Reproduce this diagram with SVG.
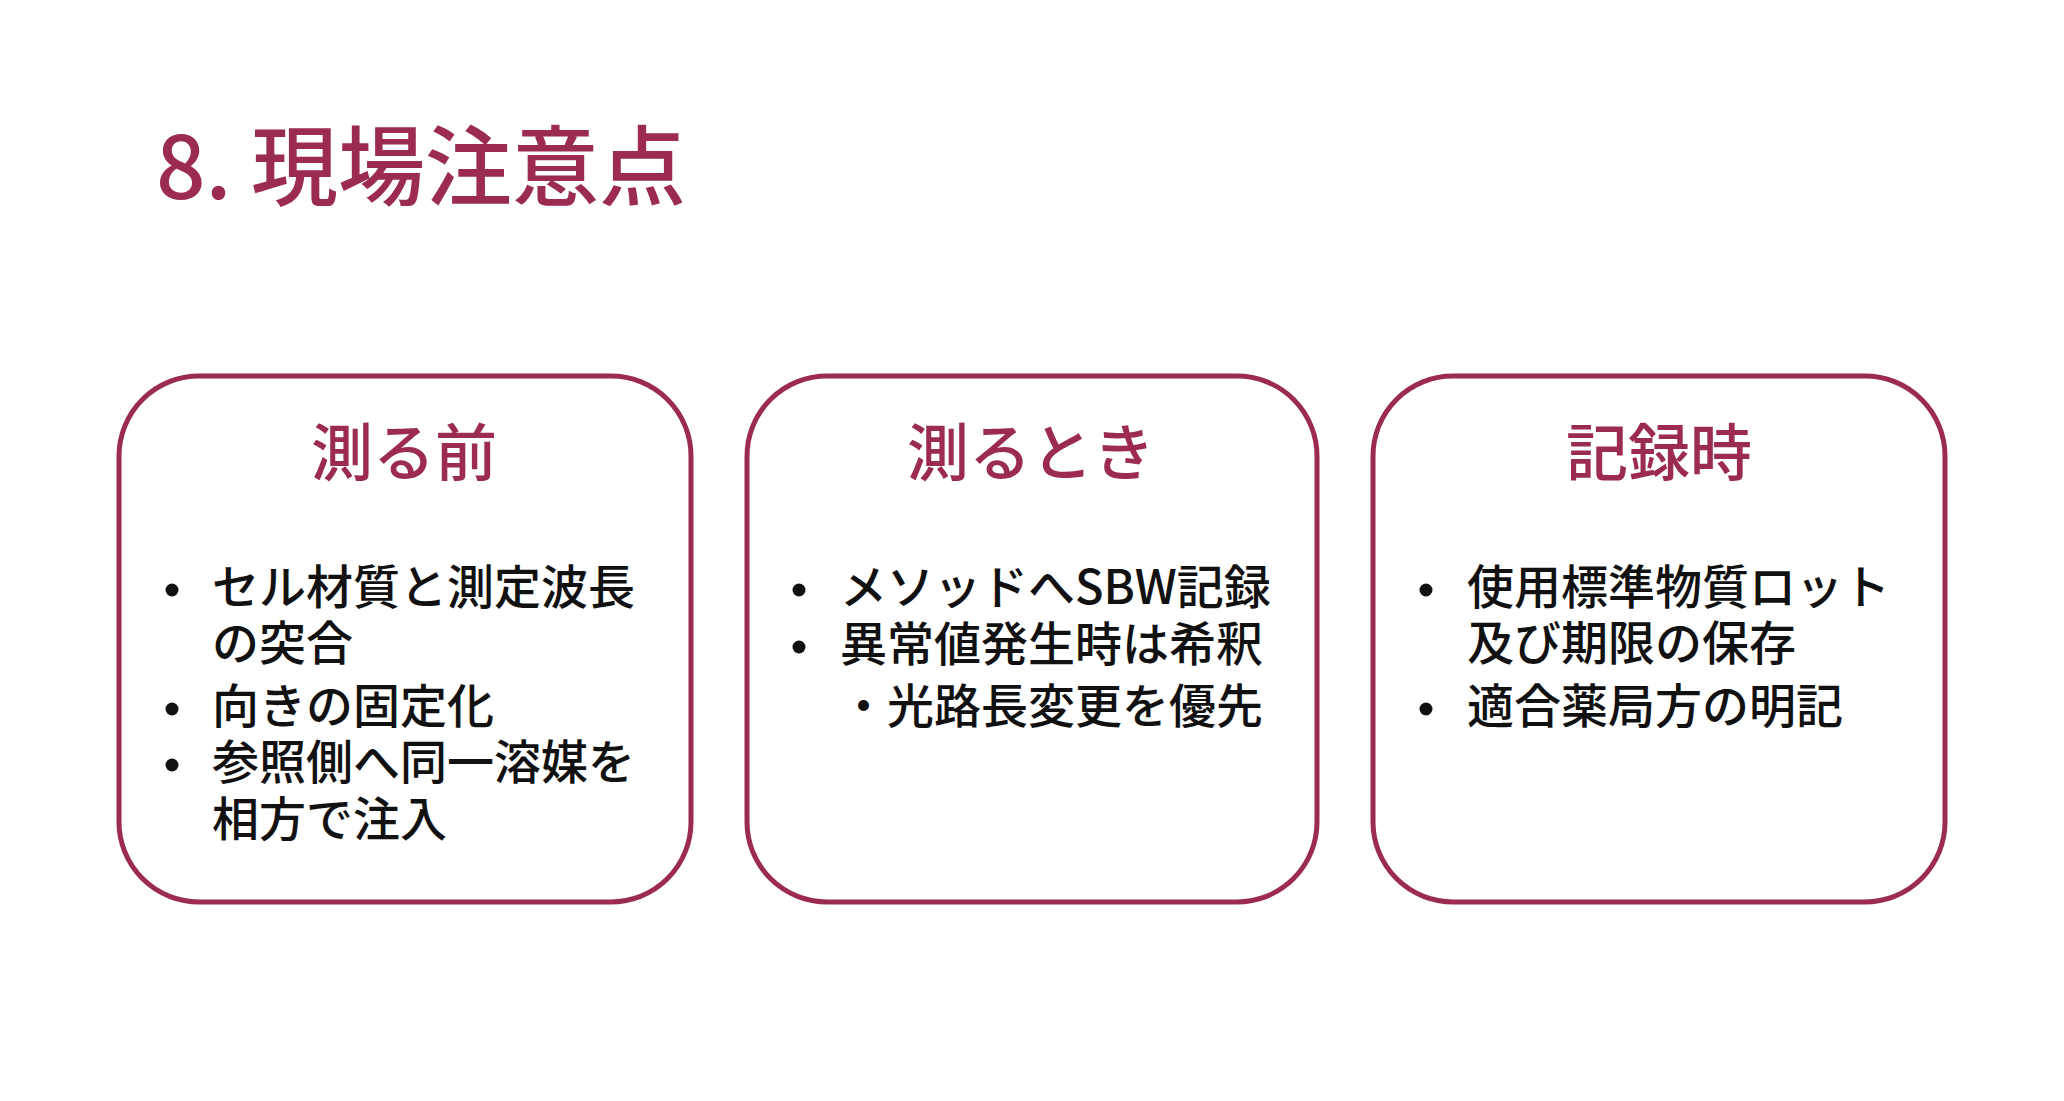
<svg xmlns="http://www.w3.org/2000/svg" width="2064" height="1101" viewBox="0 0 2064 1101">
<style>
.box{fill:#fff;stroke:#9b2b52;stroke-width:5}
.h{font-family:"Noto Sans CJK JP","Noto Sans",sans-serif;font-size:62px;font-weight:500;fill:#9b2b52;text-anchor:middle}
.t{font-family:"Noto Sans CJK JP","Noto Sans",sans-serif;font-size:47px;font-weight:500;fill:#111}
.d{fill:#111}
</style>
<rect width="2064" height="1101" fill="#fff"/>
<text x="156" y="199" font-family="Noto Sans CJK JP,Noto Sans,sans-serif" font-size="87" font-weight="500" fill="#9b2b52">8. 現場注意点</text>
<g id="n1">
<rect class="box" x="119" y="376" width="572" height="526" rx="80"/>
<text class="h" x="404" y="476">測る前</text>
<circle class="d" cx="172" cy="590" r="6.5"/>
<text class="t" x="212" y="604">セル材質と測定波長</text>
<text class="t" x="212" y="660">の突合</text>
<circle class="d" cx="172" cy="709" r="6.5"/>
<text class="t" x="212" y="723">向きの固定化</text>
<circle class="d" cx="172" cy="765" r="6.5"/>
<text class="t" x="212" y="779">参照側へ同一溶媒を</text>
<text class="t" x="212" y="836">相方で注入</text>
</g>
<g id="n2">
<rect class="box" x="747" y="376" width="570" height="526" rx="80"/>
<text class="h" x="1031" y="476">測るとき</text>
<circle class="d" cx="799" cy="590" r="6.5"/>
<text class="t" x="840" y="604">メソッドへSBW記録</text>
<circle class="d" cx="799" cy="647" r="6.5"/>
<text class="t" x="840" y="661">異常値発生時は希釈</text>
<text class="t" x="840" y="723">・光路長変更を優先</text>
</g>
<g id="n3">
<rect class="box" x="1373" y="376" width="572" height="526" rx="80"/>
<text class="h" x="1659" y="476">記録時</text>
<circle class="d" cx="1426" cy="590" r="6.5"/>
<text class="t" x="1467" y="604">使用標準物質ロット</text>
<text class="t" x="1467" y="660">及び期限の保存</text>
<circle class="d" cx="1426" cy="709" r="6.5"/>
<text class="t" x="1467" y="723">適合薬局方の明記</text>
</g>
<g id="connectors"/>
</svg>
